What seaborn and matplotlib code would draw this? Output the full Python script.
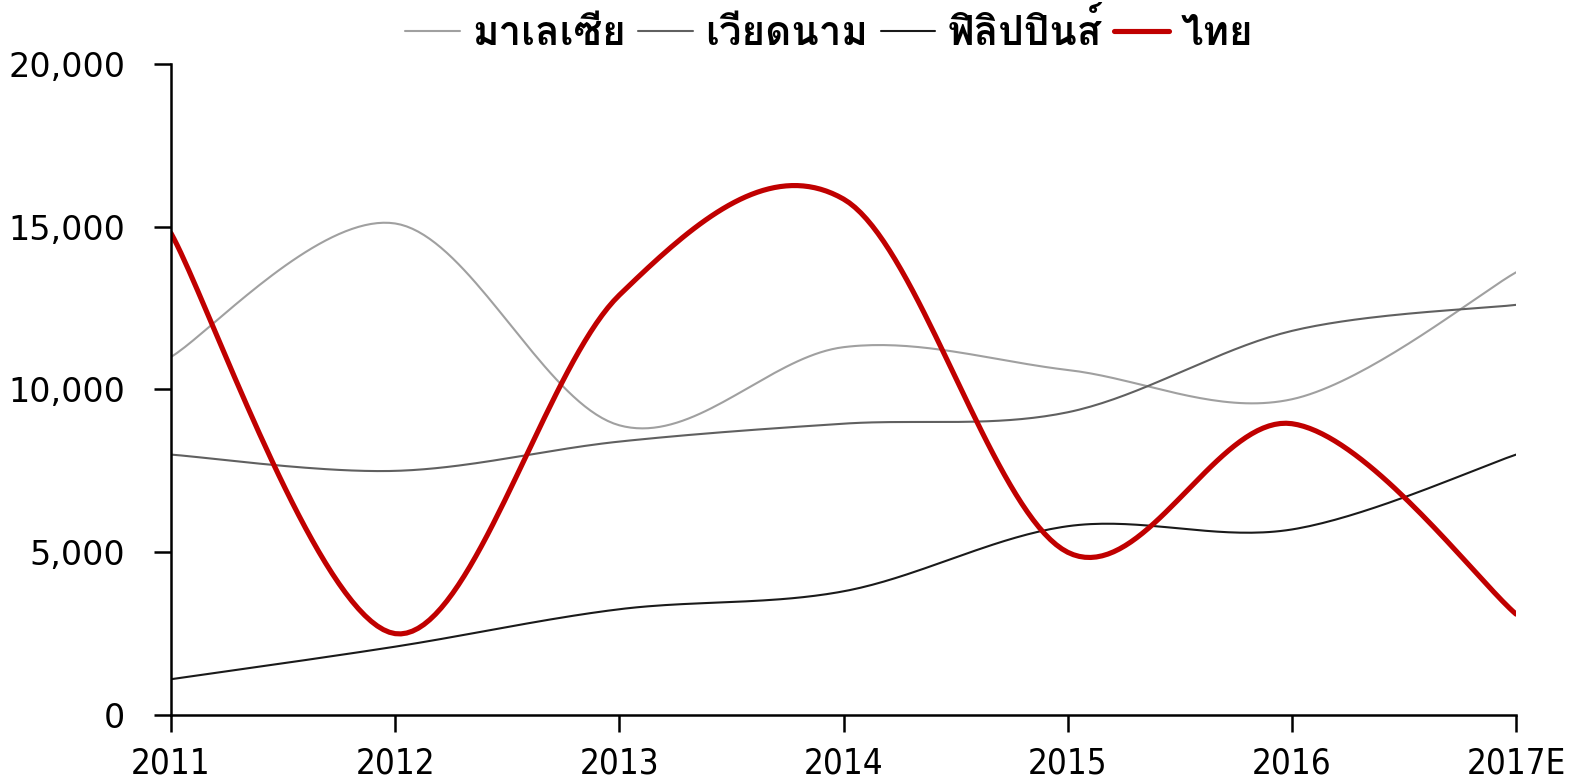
import numpy as np
import pandas as pd
import matplotlib
matplotlib.use("Agg")
import matplotlib.pyplot as plt
import seaborn as sns
from matplotlib.ticker import FuncFormatter

years = ["2011", "2012", "2013", "2014", "2015", "2016", "2017E"]
malaysia = [11000, 15100, 8900, 11300, 10600, 9700, 13600]
vietnam = [8000, 7500, 8400, 8950, 9300, 11800, 12600]
philippines = [1100, 2100, 3250, 3800, 5800, 5700, 8000]
thailand = [14800, 2500, 12900, 15850, 5000, 8950, 3100]

series_names = ["มาเลเซีย", "เวียดนาม", "ฟิลิปปินส์", "ไทย"]
series_values = [malaysia, vietnam, philippines, thailand]
series_colors = ["#a0a0a0", "#606060", "#1a1a1a", "#c00000"]
series_widths = [1.5, 1.5, 1.5, 3.7]

y_ticks = [0, 5000, 10000, 15000, 20000]


def smooth(ys, n=40):
    # excel-like smoothed line: bezier through the points, catmull-rom controls
    ys = np.asarray(ys, dtype=float)
    xs = np.arange(len(ys), dtype=float)
    px = np.concatenate([[xs[0]], xs, [xs[-1]]])
    py = np.concatenate([[ys[0]], ys, [ys[-1]]])
    out_x, out_y = [], []
    t = np.linspace(0, 1, n)
    for i in range(len(ys) - 1):
        p0x, p1x, p2x, p3x = px[i], px[i + 1], px[i + 2], px[i + 3]
        p0y, p1y, p2y, p3y = py[i], py[i + 1], py[i + 2], py[i + 3]
        c1x, c1y = p1x + (p2x - p0x) / 6, p1y + (p2y - p0y) / 6
        c2x, c2y = p2x - (p3x - p1x) / 6, p2y - (p3y - p1y) / 6
        bx = (1 - t) ** 3 * p1x + 3 * (1 - t) ** 2 * t * c1x + 3 * (1 - t) * t ** 2 * c2x + t ** 3 * p2x
        by = (1 - t) ** 3 * p1y + 3 * (1 - t) ** 2 * t * c1y + 3 * (1 - t) * t ** 2 * c2y + t ** 3 * p2y
        if i > 0:
            bx, by = bx[1:], by[1:]
        out_x.extend(bx)
        out_y.extend(by)
    return np.array(out_x), np.array(out_y)


sns.set_theme(style="white")
plt.rcParams['font.family'] = ['DejaVu Sans']

fig = plt.figure(figsize=(15.95, 7.8), dpi=100)
ax = fig.add_axes([0.1072, 0.0833, 0.8433, 0.8347])

for name, vals, col, lw in zip(series_names, series_values, series_colors, series_widths):
    sx, sy = smooth(vals)
    df = pd.DataFrame({"x": sx, "y": sy})
    sns.lineplot(data=df, x="x", y="y", sort=False, estimator=None, color=col,
                 linewidth=lw, label=name, ax=ax)

ax.set_xlim(0, len(years) - 1)
ax.set_ylim(0, 20000)
ax.set_xticks(range(len(years)))
ax.set_xticklabels(years, family=['DejaVu Sans'], stretch='condensed', fontsize=25)
ax.set_yticks(y_ticks)
ax.yaxis.set_major_formatter(FuncFormatter(lambda v, p: f"{int(v):,}"))
for lab in ax.get_yticklabels():
    lab.set_fontsize(24)
ax.set_xlabel("")
ax.set_ylabel("")

for s in ["top", "right"]:
    ax.spines[s].set_visible(False)
for s in ["left", "bottom"]:
    ax.spines[s].set_color("black")
    ax.spines[s].set_linewidth(1.8)
ax.tick_params(axis="both", direction="out", length=12, width=1.8, color="black",
               left=True, bottom=True, labelcolor="black")
ax.tick_params(axis="y", pad=21)
ax.tick_params(axis="x", pad=11)
ax.grid(False)

ax.legend(loc="center", bbox_to_anchor=(0.52, 0.96), bbox_transform=fig.transFigure,
          ncol=4, frameon=False, handlelength=1.35, handletextpad=0.3, columnspacing=0.32,
          labelcolor="black",
          prop={'family': ['Loma', 'Noto Sans Thai Looped', 'DejaVu Sans'],
                'weight': 'bold', 'size': 29})

fig.savefig("out.png", dpi=100, facecolor="white")
